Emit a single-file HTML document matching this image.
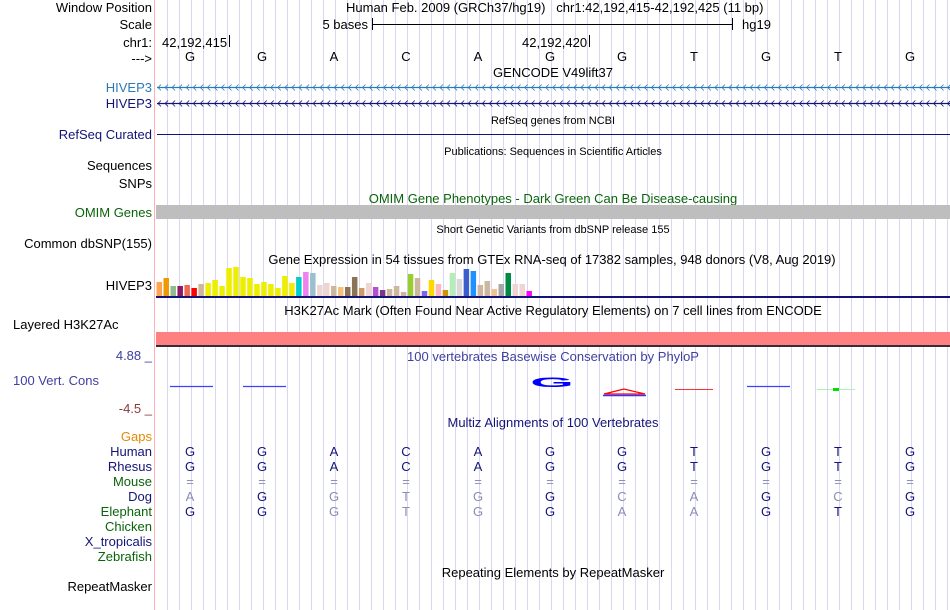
<!DOCTYPE html>
<html><head><meta charset="utf-8">
<style>
html,body{margin:0;padding:0;background:#fff;}
body{width:950px;height:610px;overflow:hidden;font-family:"Liberation Sans",sans-serif;}
svg{display:block;}
text{font-family:"Liberation Sans",sans-serif;font-size:13px;}
.sm{font-size:11px;}
</style></head>
<body>
<svg id="c" width="950" height="610" xmlns="http://www.w3.org/2000/svg">
<g id="grid"></g>
<line x1="154.5" y1="0" x2="154.5" y2="610" stroke="#ffb0b0" stroke-width="1"/>
<g id="labels" text-anchor="end">
<text x="152" y="12" fill="#000">Window Position</text>
<text x="152" y="29" fill="#000">Scale</text>
<text x="152" y="47" fill="#000">chr1:</text>
<text x="152" y="63" fill="#000">---&gt;</text>
<text x="152" y="92" fill="#2a7ab8">HIVEP3</text>
<text x="152" y="108" fill="#141478">HIVEP3</text>
<text x="152" y="139" fill="#141478">RefSeq Curated</text>
<text x="152" y="170" fill="#000">Sequences</text>
<text x="152" y="188" fill="#000">SNPs</text>
<text x="152" y="217" fill="#0a640a">OMIM Genes</text>
<text x="152" y="248" fill="#000">Common dbSNP(155)</text>
<text x="152" y="290" fill="#000">HIVEP3</text>
<text x="13" y="329" text-anchor="start" fill="#000">Layered H3K27Ac</text>
<text x="152" y="360" fill="#4040a0">4.88 _</text>
<text x="13" y="385" text-anchor="start" fill="#4040a0">100 Vert. Cons</text>
<text x="152" y="413" fill="#8b3a3a">-4.5 _</text>
<text x="152" y="441" fill="#e68a00">Gaps</text>
<text x="152" y="456" fill="#141478">Human</text>
<text x="152" y="471" fill="#141478">Rhesus</text>
<text x="152" y="486" fill="#0a640a">Mouse</text>
<text x="152" y="501" fill="#141478">Dog</text>
<text x="152" y="516" fill="#0a640a">Elephant</text>
<text x="152" y="531" fill="#0a640a">Chicken</text>
<text x="152" y="546" fill="#141478">X_tropicalis</text>
<text x="152" y="561" fill="#0a640a">Zebrafish</text>
<text x="152" y="591" fill="#000">RepeatMasker</text>
</g>
<g>
<text x="346" y="12" fill="#000">Human Feb. 2009 (GRCh37/hg19)&#160;&#160;&#160;chr1:42,192,415-42,192,425 (11 bp)</text>
<text x="368" y="29" text-anchor="end" fill="#000">5 bases</text>
<line x1="372.5" y1="18" x2="372.5" y2="30" stroke="#000"/>
<line x1="372" y1="24.5" x2="733" y2="24.5" stroke="#000"/>
<line x1="732.5" y1="18" x2="732.5" y2="30" stroke="#000"/>
<text x="742" y="29" fill="#000">hg19</text>
<text x="162" y="47" fill="#000">42,192,415</text>
<line x1="229.5" y1="35" x2="229.5" y2="47" stroke="#000"/>
<text x="522" y="47" fill="#000">42,192,420</text>
<line x1="589.5" y1="35" x2="589.5" y2="47" stroke="#000"/>
</g>
<g id="bases" text-anchor="middle"></g>
<g text-anchor="middle">
<text x="553" y="77" fill="#000">GENCODE V49lift37</text>
<text class="sm" x="553" y="124" fill="#000">RefSeq genes from NCBI</text>
<text class="sm" x="553" y="155" fill="#000">Publications: Sequences in Scientific Articles</text>
<text x="553" y="203" fill="#0a640a">OMIM Gene Phenotypes - Dark Green Can Be Disease-causing</text>
<text class="sm" x="553" y="233" fill="#000">Short Genetic Variants from dbSNP release 155</text>
<text x="552" y="264" fill="#000">Gene Expression in 54 tissues from GTEx RNA-seq of 17382 samples, 948 donors (V8, Aug 2019)</text>
<text x="553" y="315" fill="#000">H3K27Ac Mark (Often Found Near Active Regulatory Elements) on 7 cell lines from ENCODE</text>
<text x="553" y="361" fill="#4040a0">100 vertebrates Basewise Conservation by PhyloP</text>
<text x="553" y="427" fill="#141478">Multiz Alignments of 100 Vertebrates</text>
<text x="553" y="577" fill="#000">Repeating Elements by RepeatMasker</text>
</g>
<g id="genes"></g>
<line x1="157" y1="134.5" x2="950" y2="134.5" stroke="#141478"/>
<rect x="156" y="205" width="794" height="14" fill="#bebebe"/>
<g id="gtex"></g>
<rect x="156" y="296" width="794" height="2" fill="#141478"/>
<rect x="156" y="332" width="794" height="13" fill="#ff8080"/>
<rect x="156" y="345" width="794" height="2" fill="#3a2a3a"/>
<g>
<path d="M170 386.5 H213" stroke="#4040ff" stroke-width="1.2"/>
<path d="M243 386.5 H286" stroke="#4040ff" stroke-width="1.2"/>
<text x="552" y="387" text-anchor="middle" fill="#0000ff" font-weight="bold" style="font-size:20px" transform="translate(552 387) scale(2.8 0.7) translate(-552 -387)">G</text>
<path d="M604 394 L624 389 L645 394 Z" fill="none" stroke="#ff0000" stroke-width="1.3"/>
<path d="M603 395.5 H646" stroke="#3030ff" stroke-width="1.5"/>
<path d="M675 389.5 H713" stroke="#ff3030" stroke-width="1"/>
<path d="M747 386.5 H790" stroke="#4040ff" stroke-width="1.2"/>
<path d="M817 389.5 H855" stroke="#b0f0b0" stroke-width="1"/>
<rect x="833" y="388" width="6" height="3" fill="#00e000"/>
</g>
<g id="multiz" text-anchor="middle"></g>
</svg>
<script>
const bases = ["G","G","A","C","A","G","G","T","G","T","G"];
const dogBases = ["A","G","G","T","G","G","C","A","G","C","G"];
const elephantBases = ["G","G","G","T","G","G","A","A","G","T","G"];
const gtexValues = [14,18,10,10,11,8,12,13,16,10,28,29,19,18,12,14,12,8,20,13,19,24,23,11,13,10,9,9,19,8,13,9,6,7,10,4,22,18,5,16,12,6,23,17,27,25,11,15,7,12,23,12,12,5];
const gtexColors = ["#ffa54f","#ee9a00","#8fbc8f","#8b1c62","#ee6a50","#ff0000","#cdb79e","#eeee00","#eeee00","#eeee00","#eeee00","#eeee00","#eeee00","#eeee00","#eeee00","#eeee00","#eeee00","#eeee00","#eeee00","#eeee00","#00cdcd","#ee82ee","#9ac0cd","#eed5d2","#eed5d2","#cdb79e","#f4c07a","#8b7355","#8b7355","#cd9b69","#eed5d2","#b452cd","#7a378b","#cdb79e","#cdb79e","#cdb79e","#9acd32","#cdb79e","#7b68ee","#ffd700","#ffb6c1","#cd950c","#b4eeb4","#d9d9d9","#3a5fcd","#1e90ff","#cdb79e","#cdb79e","#eec591","#a6a6a6","#008b45","#eed5d2","#eed5d2","#ff00ff"];
const NS="http://www.w3.org/2000/svg";
function mk(tag,attrs,parent,txt){const e=document.createElementNS(NS,tag);for(const k in attrs)e.setAttribute(k,attrs[k]);if(txt!==undefined)e.textContent=txt;parent.appendChild(e);return e;}
const baseX = i => 190 + i*72;
const grid=document.getElementById('grid');
for(let x=167.5;x<950;x+=12){mk('line',{x1:x,y1:0,x2:x,y2:610,stroke:'#d8d8f4','stroke-width':1},grid);}
const bg=document.getElementById('bases');
bases.forEach((b,i)=>{const t=mk('text',{x:baseX(i),y:61,fill:'#000'},bg,b);

});
const gg=document.getElementById('genes');
[[87.5,'#2a7ab8'],[103.5,'#141478']].forEach(([y,c],j)=>{
 const ln=mk('line',{x1:157,y1:y,x2:950,y2:y,stroke:c,'stroke-width':1.2},gg);
 
 
 let d='';for(let x=158;x<948;x+=7.05){d+=`M${x+3} ${y-3} L${x} ${y} L${x+3} ${y+3} `;}
 mk('path',{d:d,stroke:c,fill:'none','stroke-width':0.8},gg);
});
const gt=document.getElementById('gtex');
const gtexY = v => 296 - v;
gtexValues.forEach((v,i)=>{const r=mk('rect',{x:156.5+i*6.98,y:gtexY(v),width:5.5,height:v,fill:gtexColors[i]},gt);

});
const mz=document.getElementById('multiz');
const dark='#141478', gray='#8c8cb4';
function row(arr,y,colorFn){arr.forEach((b,i)=>{const t=mk('text',{x:baseX(i),y:y,fill:colorFn(b,i)},mz,b);

});}
row(bases,456,()=>dark);
row(bases,471,()=>dark);
row(bases.map(()=>'='),486,()=>gray);
row(dogBases,501,(b,i)=>b===bases[i]?dark:gray);
row(elephantBases,516,(b,i)=>b===bases[i]?dark:gray);
</script>
</body></html>
